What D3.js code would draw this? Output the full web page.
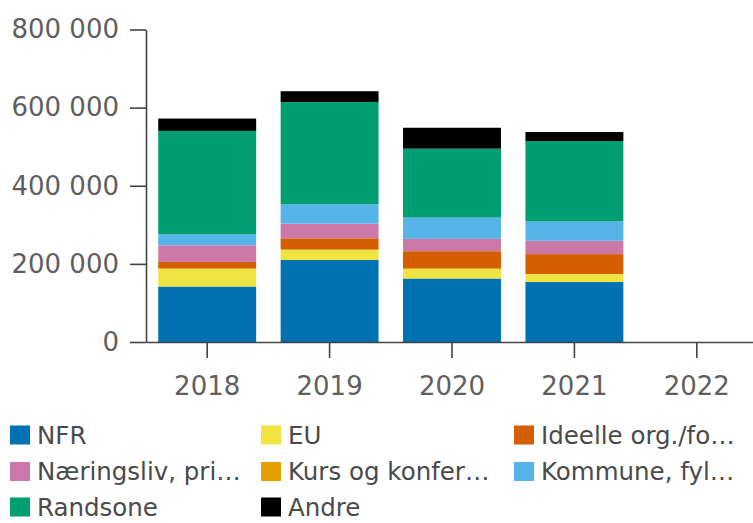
<!DOCTYPE html>
<html lang="no">
<head>
    <meta charset="UTF-8">
    <title>Inntekter per kilde</title>
    <script src="https://d3js.org/d3.v7.min.js"></script>
    <style>
        body {
            margin: 0;
            background: #fff;
        }
        svg {
            display: block;
        }
        .axis text {
            font-family: "DejaVu Sans", sans-serif;
            font-size: 26px;
            fill: #5f5f5f;
        }
        .axis path, .axis line {
            stroke: #444;
            stroke-width: 1.6px;
        }
        .legend text {
            font-family: "DejaVu Sans", sans-serif;
            font-size: 24.5px;
            fill: #4a4a4a;
        }
    </style>
</head>
<body>
    <svg width="753" height="523"></svg>
    <script>
        // Data
        const years = ["2018", "2019", "2020", "2021", "2022"];
        const seriesNames = ["NFR", "EU", "Ideelle org./fo…", "Næringsliv, pri…",
                             "Kurs og konfer…", "Kommune, fyl…", "Randsone", "Andre"];
        const seriesColors = ["#0072B2", "#F0E442", "#D55E00", "#CC79A7",
                              "#E69F00", "#56B4E9", "#009E73", "#000000"];
        const nfr       = [142000, 210000, 162500, 153500, 0];
        const eu        = [46000, 26500, 25500, 20500, 0];
        const ideelle   = [17000, 29000, 44500, 51000, 0];
        const naering   = [42500, 37500, 31500, 34000, 0];
        const kurs      = [0, 0, 0, 0, 0];
        const kommune   = [28000, 49500, 54500, 49500, 0];
        const randsone  = [265000, 262000, 176500, 206000, 0];
        const andre     = [31500, 27500, 53500, 23000, 0];
        const yTicks = [0, 200000, 400000, 600000, 800000];

        const seriesValues = [nfr, eu, ideelle, naering, kurs, kommune, randsone, andre];

        // Build table for d3.stack
        const table = years.map((yr, i) => {
            const row = {year: yr};
            seriesNames.forEach((s, j) => { row[s] = seriesValues[j][i]; });
            return row;
        });

        const svg = d3.select("svg");

        const x = d3.scaleBand()
                    .domain(years)
                    .range([146, 758])
                    .paddingInner(0.2)
                    .paddingOuter(0.1);

        const y = d3.scaleLinear()
                    .domain([0, 800000])
                    .range([342, 29.5]);

        const color = d3.scaleOrdinal().domain(seriesNames).range(seriesColors);

        const stacked = d3.stack().keys(seriesNames)(table);

        // Bars
        svg.append("g")
           .selectAll("g")
           .data(stacked)
           .enter().append("g")
           .attr("fill", d => color(d.key))
           .selectAll("rect")
           .data(d => d)
           .enter().append("rect")
           .attr("x", d => x(d.data.year))
           .attr("y", d => y(d[1]))
           .attr("width", x.bandwidth())
           .attr("height", d => y(d[0]) - y(d[1]));

        // Y axis
        const fmt = v => d3.format(",")(v).replace(/,/g, " ");
        svg.append("g")
           .attr("class", "axis")
           .attr("transform", "translate(146,0)")
           .call(d3.axisLeft(y).tickValues(yTicks).tickFormat(fmt)
                   .tickSizeInner(16).tickSizeOuter(0).tickPadding(11));

        // X axis
        svg.append("g")
           .attr("class", "axis")
           .attr("transform", `translate(0,${y(0)})`)
           .call(d3.axisBottom(x).tickSizeInner(16).tickSizeOuter(0).tickPadding(19));

        // Legend, three columns
        const legendCols = [10, 261, 514];
        const legendRows = [435, 471.5, 507];
        const legend = svg.append("g").attr("class", "legend");
        seriesNames.forEach((s, i) => {
            const cx = legendCols[i % 3];
            const cy = legendRows[Math.floor(i / 3)];
            const item = legend.append("g").attr("transform", `translate(${cx},${cy})`);
            item.append("rect")
                .attr("x", 0)
                .attr("y", -9.5)
                .attr("width", 20)
                .attr("height", 19)
                .attr("fill", color(s));
            item.append("text")
                .attr("x", 27)
                .attr("dy", "0.36em")
                .text(s);
        });
    </script>
</body>
</html>
